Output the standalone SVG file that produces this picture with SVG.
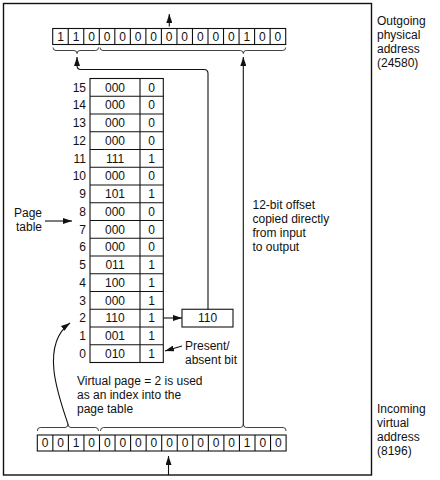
<svg xmlns="http://www.w3.org/2000/svg" width="440" height="480" viewBox="0 0 440 480">
<style>
  text { font-family: "Liberation Sans", Arial, sans-serif; font-size: 12px; fill: #111; }
  .c { text-anchor: middle; }
  .e { text-anchor: end; }
  .box { fill: #fff; stroke: #111; stroke-width: 1.1; }
  .ln { fill: none; stroke: #111; stroke-width: 1.1; }
  .br { fill: none; stroke: #111; stroke-width: 0.8; }
  .frame { fill: none; stroke: #111; stroke-width: 1.4; }
</style>
<defs>
  <marker id="ah" viewBox="0 0 9 6" refX="9" refY="3" markerWidth="9" markerHeight="6" markerUnits="userSpaceOnUse" orient="auto">
    <path d="M0,0 L9,3 L0,6 z" fill="#111"/>
  </marker>
</defs>

<rect class="frame" x="3.5" y="3.5" width="368" height="471.5"/>

<g id="outgoing-register">
  <rect class="box" x="52.7" y="28.5" width="233" height="16"/>
  <path class="ln" d="M68.23,28.5v16M83.76,28.5v16M99.29,28.5v16M114.82,28.5v16M130.35,28.5v16M145.88,28.5v16M161.41,28.5v16M176.94,28.5v16M192.47,28.5v16M208,28.5v16M223.53,28.5v16M239.06,28.5v16M254.59,28.5v16M270.12,28.5v16"/>
  <g class="c">
    <text x="60.5" y="40.5">1</text><text x="76" y="40.5">1</text><text x="91.5" y="40.5">0</text>
    <text x="107.1" y="40.5">0</text><text x="122.6" y="40.5">0</text><text x="138.1" y="40.5">0</text>
    <text x="153.7" y="40.5">0</text><text x="169.2" y="40.5">0</text><text x="184.7" y="40.5">0</text>
    <text x="200.3" y="40.5">0</text><text x="215.8" y="40.5">0</text><text x="231.3" y="40.5">0</text>
    <text x="246.9" y="40.5">1</text><text x="262.4" y="40.5">0</text><text x="277.9" y="40.5">0</text>
  </g>
  <path class="br" d="M53,47.5 Q53,50.5 56,50.5 L74,50.5 Q77,50.5 77,53.5 Q77,50.5 80,50.5 L95.5,50.5 Q98.5,50.5 98.5,47.5"/>
  <path class="br" d="M100,47.5 Q100,50.5 103,50.5 L240.3,50.5 Q243.3,50.5 243.3,53.5 Q243.3,50.5 246.3,50.5 L282.7,50.5 Q285.7,50.5 285.7,47.5"/>
</g>

<g id="outgoing-label">
  <text x="377" y="24.5">Outgoing</text>
  <text x="377" y="38.5">physical</text>
  <text x="377" y="52.5">address</text>
  <text x="377" y="66.5">(24580)</text>
</g>

<g id="page-table">
  <rect class="box" x="90" y="78.5" width="73.3" height="284"/>
  <path class="ln" d="M140,78.5v284 M90,96.25h73.3 M90,114h73.3 M90,131.75h73.3 M90,149.5h73.3 M90,167.25h73.3 M90,185h73.3 M90,202.75h73.3 M90,220.5h73.3 M90,238.25h73.3 M90,256h73.3 M90,273.75h73.3 M90,291.5h73.3 M90,309.25h73.3 M90,327h73.3 M90,344.75h73.3"/>
  <g class="e">
    <text x="86" y="91.5">15</text><text x="86" y="109.25">14</text><text x="86" y="127">13</text><text x="86" y="144.75">12</text>
    <text x="86" y="162.5">11</text><text x="86" y="180.25">10</text><text x="86" y="198">9</text><text x="86" y="215.75">8</text>
    <text x="86" y="233.5">7</text><text x="86" y="251.25">6</text><text x="86" y="269">5</text><text x="86" y="286.75">4</text>
    <text x="86" y="304.5">3</text><text x="86" y="322.25">2</text><text x="86" y="340">1</text><text x="86" y="357.75">0</text>
  </g>
  <g class="c">
    <text x="115" y="91.5">000</text><text x="151.6" y="91.5">0</text>
    <text x="115" y="109.25">000</text><text x="151.6" y="109.25">0</text>
    <text x="115" y="127">000</text><text x="151.6" y="127">0</text>
    <text x="115" y="144.75">000</text><text x="151.6" y="144.75">0</text>
    <text x="115" y="162.5">111</text><text x="151.6" y="162.5">1</text>
    <text x="115" y="180.25">000</text><text x="151.6" y="180.25">0</text>
    <text x="115" y="198">101</text><text x="151.6" y="198">1</text>
    <text x="115" y="215.75">000</text><text x="151.6" y="215.75">0</text>
    <text x="115" y="233.5">000</text><text x="151.6" y="233.5">0</text>
    <text x="115" y="251.25">000</text><text x="151.6" y="251.25">0</text>
    <text x="115" y="269">011</text><text x="151.6" y="269">1</text>
    <text x="115" y="286.75">100</text><text x="151.6" y="286.75">1</text>
    <text x="115" y="304.5">000</text><text x="151.6" y="304.5">1</text>
    <text x="115" y="322.25">110</text><text x="151.6" y="322.25">1</text>
    <text x="115" y="340">001</text><text x="151.6" y="340">1</text>
    <text x="115" y="357.75">010</text><text x="151.6" y="357.75">1</text>
  </g>
</g>

<g id="page-table-label">
  <text x="42" y="217" class="e">Page</text>
  <text x="42" y="231" class="e">table</text>
</g>

<g id="frame-box">
  <rect class="box" x="182" y="309.25" width="51" height="17.75"/>
  <text x="207.5" y="322.25" class="c">110</text>
</g>

<g id="present-label">
  <text x="185" y="350">Present/</text>
  <text x="185" y="364">absent bit</text>
</g>

<g id="offset-label">
  <text x="252.5" y="209">12-bit offset</text>
  <text x="252.5" y="223">copied directly</text>
  <text x="252.5" y="237">from input</text>
  <text x="252.5" y="251">to output</text>
</g>

<g id="index-label">
  <text x="77" y="385">Virtual page = 2 is used</text>
  <text x="77" y="399">as an index into the</text>
  <text x="77" y="413">page table</text>
</g>

<g id="incoming-register">
  <rect class="box" x="37.3" y="435" width="248.8" height="16"/>
  <path class="ln" d="M52.85,435v16M68.4,435v16M83.95,435v16M99.5,435v16M115.05,435v16M130.6,435v16M146.15,435v16M161.7,435v16M177.25,435v16M192.8,435v16M208.35,435v16M223.9,435v16M239.45,435v16M255,435v16M270.55,435v16"/>
  <g class="c">
    <text x="45.1" y="447">0</text><text x="60.6" y="447">0</text><text x="76.2" y="447">1</text><text x="91.7" y="447">0</text>
    <text x="107.3" y="447">0</text><text x="122.8" y="447">0</text><text x="138.4" y="447">0</text><text x="153.9" y="447">0</text>
    <text x="169.5" y="447">0</text><text x="185" y="447">0</text><text x="200.6" y="447">0</text><text x="216.1" y="447">0</text>
    <text x="231.7" y="447">0</text><text x="247.2" y="447">1</text><text x="262.8" y="447">0</text><text x="278.3" y="447">0</text>
  </g>
  <path class="br" d="M37.3,431 Q37.3,427.5 40.3,427.5 L65,427.5 Q68,427.5 68,424 Q68,427.5 71,427.5 L95.5,427.5 Q98.5,427.5 98.5,431"/>
  <path class="br" d="M100.5,431 Q100.5,427.5 103.5,427.5 L240.3,427.5 Q243.3,427.5 243.3,424 Q243.3,427.5 246.3,427.5 L283.1,427.5 Q286.1,427.5 286.1,431"/>
</g>

<g id="incoming-label">
  <text x="377" y="413">Incoming</text>
  <text x="377" y="427">virtual</text>
  <text x="377" y="441">address</text>
  <text x="377" y="455">(8196)</text>
</g>

<g id="connectors">
  <line class="ln" x1="169.3" y1="26.5" x2="169.3" y2="14" marker-end="url(#ah)"/>
  <line class="ln" x1="168.5" y1="475" x2="168.5" y2="456" marker-end="url(#ah)"/>
  <line class="ln" x1="243.3" y1="424" x2="243.3" y2="57" marker-end="url(#ah)"/>
  <path class="ln" d="M208,309.25 L208,73.5 Q208,69.5 204,69.5 L81,69.5 Q77,69.5 77,65.5 L77,57" marker-end="url(#ah)"/>
  <line class="ln" x1="163.3" y1="318" x2="182" y2="318" marker-end="url(#ah)"/>
  <line class="ln" x1="182" y1="346" x2="165" y2="351" marker-end="url(#ah)"/>
  <line class="ln" x1="45" y1="221" x2="72" y2="221" marker-end="url(#ah)"/>
  <path class="ln" d="M68,424 C58,395 40,345 70,323" marker-end="url(#ah)"/>
</g>
</svg>
